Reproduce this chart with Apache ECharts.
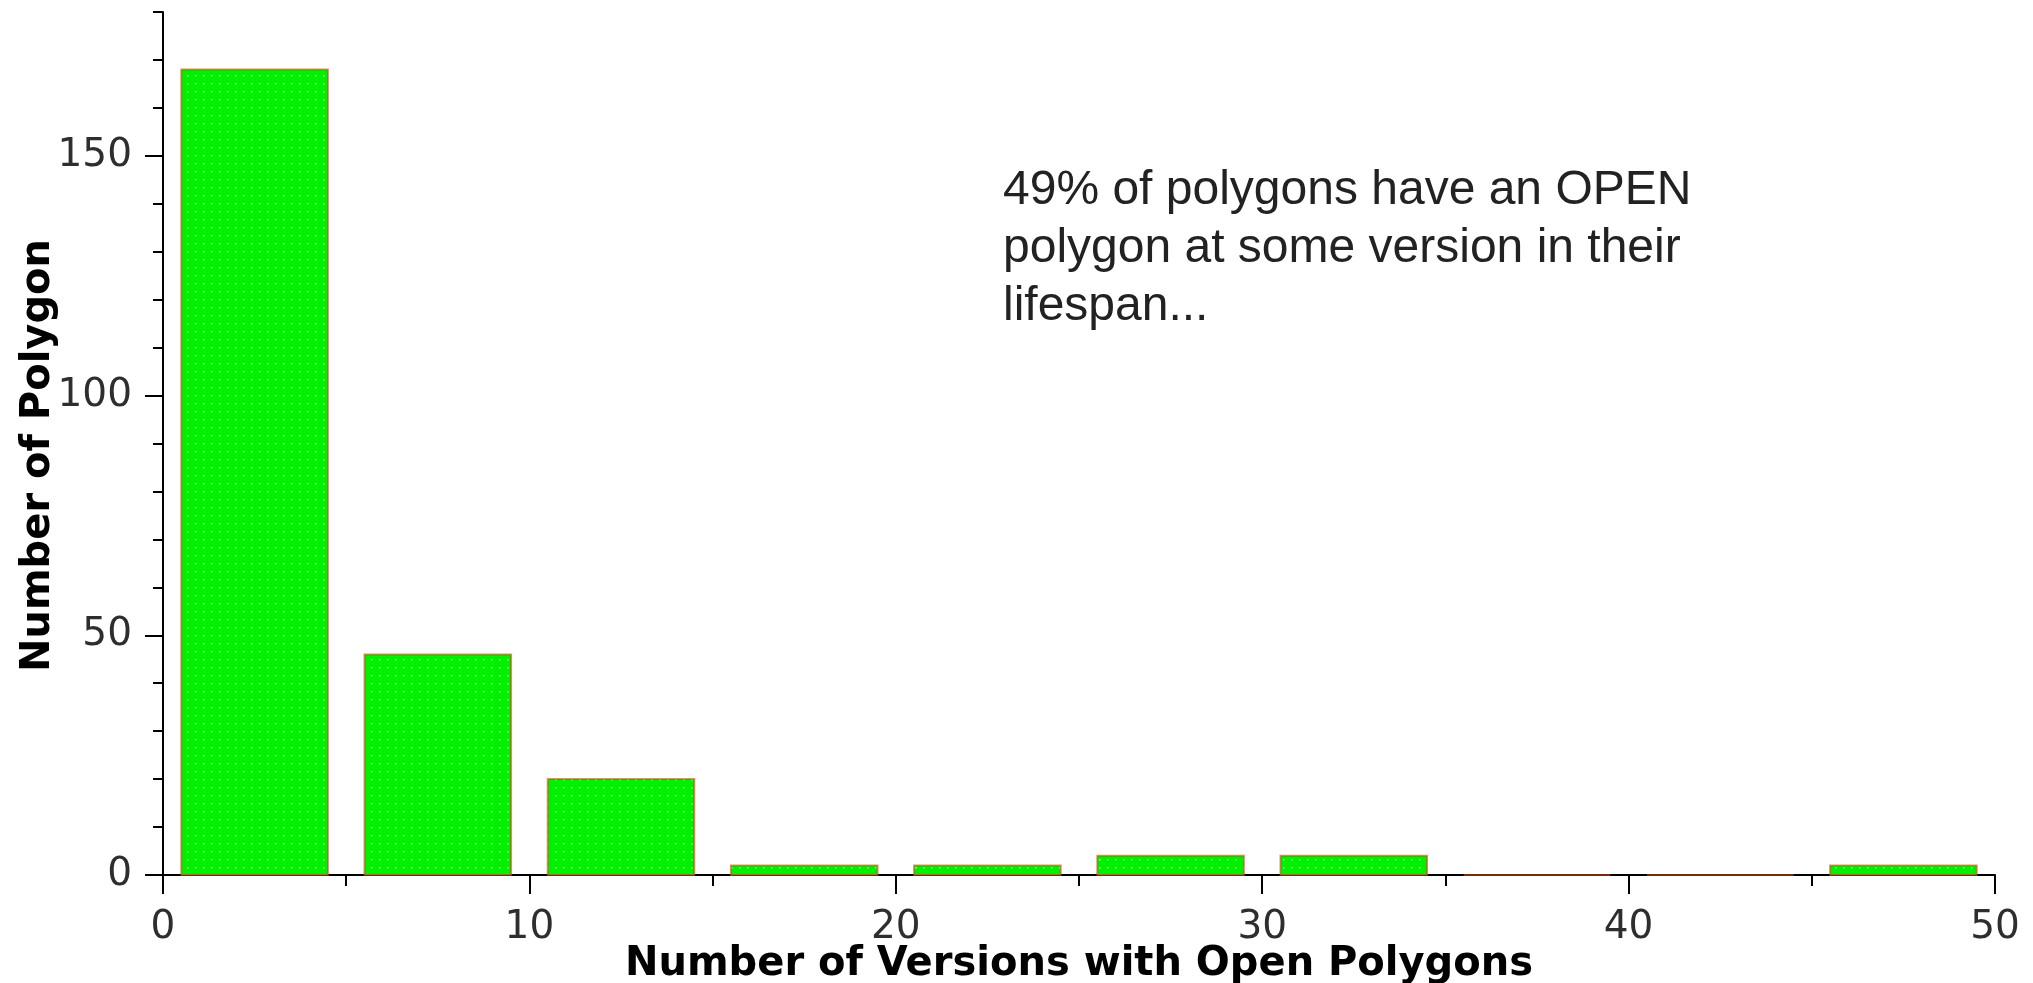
<!DOCTYPE html>
<html>
<head>
<meta charset="utf-8">
<script src="https://cdn.jsdelivr.net/npm/echarts@6/dist/echarts.min.js"></script>
<style>
html,body{margin:0;padding:0;background:#fff;}
#chart{width:2033px;height:983px;}
</style>
</head>
<body>
<div id="chart"></div>
<script>
// ---- data ----
const binStarts = [0, 5, 10, 15, 20, 25, 30, 35, 40, 45];
const binWidth = 5;
const counts = [168, 46, 20, 2, 2, 4, 4, 0, 0, 2];
const xTicks = [0, 10, 20, 30, 40, 50];
const yMajorTicks = [0, 50, 100, 150];
const xAxisTitle = 'Number of Versions with Open Polygons';
const yAxisTitle = 'Number of Polygon';
const noteLines = ['49% of polygons have an OPEN', 'polygon at some version in their', 'lifespan...'];

// ---- dotted green fill pattern ----
const tile = document.createElement('canvas');
tile.width = 8; tile.height = 8;
const tctx = tile.getContext('2d');
tctx.fillStyle = '#00f000';
tctx.fillRect(0, 0, 8, 8);
tctx.fillStyle = '#a8ffa8';
tctx.fillRect(3, 3, 1.5, 1.5);

const chart = echarts.init(document.getElementById('chart'));
const seriesData = binStarts.map((b, i) => [b, b + binWidth, counts[i]]);

chart.setOption({
  animation: false,
  backgroundColor: '#ffffff',
  grid: { left: 163, right: 38, top: 12, bottom: 108, containLabel: false, outerBoundsMode: 'none' },
  xAxis: {
    type: 'value',
    min: xTicks[0], max: xTicks[xTicks.length - 1], interval: 10,
    name: xAxisTitle,
    nameLocation: 'middle',
    nameGap: 70,
    nameMoveOverlap: false,
    nameTextStyle: { fontFamily: 'DejaVu Sans', fontWeight: 'bold', fontSize: 40, color: '#000' },
    axisLine: { show: true, onZero: false, lineStyle: { color: '#000', width: 2 } },
    axisTick: { show: true, length: 19, lineStyle: { color: '#000', width: 2 } },
    minorTick: { show: true, splitNumber: 2, length: 11, lineStyle: { color: '#000', width: 2 } },
    axisLabel: { margin: 33, fontFamily: 'DejaVu Sans', fontSize: 39, color: '#2e2e2e' },
    splitLine: { show: false },
    minorSplitLine: { show: false }
  },
  yAxis: [
    {
      type: 'value',
      min: 0, max: 180, interval: 10,
      name: yAxisTitle,
      nameLocation: 'middle',
      nameGap: 104,
      nameMoveOverlap: false,
      nameTextStyle: { fontFamily: 'DejaVu Sans', fontWeight: 'bold', fontSize: 40, color: '#000', padding: [0, 24, 0, 0] },
      axisLine: { show: true, lineStyle: { color: '#000', width: 2 } },
      axisTick: { show: true, length: 10, lineStyle: { color: '#000', width: 2 } },
      axisLabel: {
        margin: 31, fontFamily: 'DejaVu Sans', fontSize: 39, color: '#2e2e2e',
        formatter: v => (yMajorTicks.indexOf(v) >= 0 ? String(v) : '')
      },
      splitLine: { show: false }
    },
    {
      type: 'value',
      position: 'left',
      min: 0, max: 180, interval: 50,
      axisLine: { show: false },
      axisTick: { show: true, length: 18, customValues: yMajorTicks, lineStyle: { color: '#000', width: 2 } },
      axisLabel: { show: false },
      splitLine: { show: false }
    }
  ],
  series: [{
    type: 'custom',
    xAxisIndex: 0,
    yAxisIndex: 0,
    data: seriesData,
    renderItem: function (params, api) {
      const gap = 0.5;
      const p0 = api.coord([api.value(0) + gap, api.value(2)]);
      const p1 = api.coord([api.value(1) - gap, 0]);
      return {
        type: 'rect',
        shape: { x: p0[0], y: p0[1], width: p1[0] - p0[0], height: p1[1] - p0[1] },
        style: {
          fill: { image: tile, repeat: 'repeat' },
          stroke: 'rgba(200,70,20,0.6)',
          lineWidth: 2
        }
      };
    }
  }],
  graphic: [{
    type: 'text',
    left: 1003,
    top: 162,
    style: {
      text: noteLines.join('\n'),
      fontFamily: 'Liberation Sans',
      fontSize: 48,
      lineHeight: 58,
      fill: '#222'
    }
  }]
});
</script>
</body>
</html>
